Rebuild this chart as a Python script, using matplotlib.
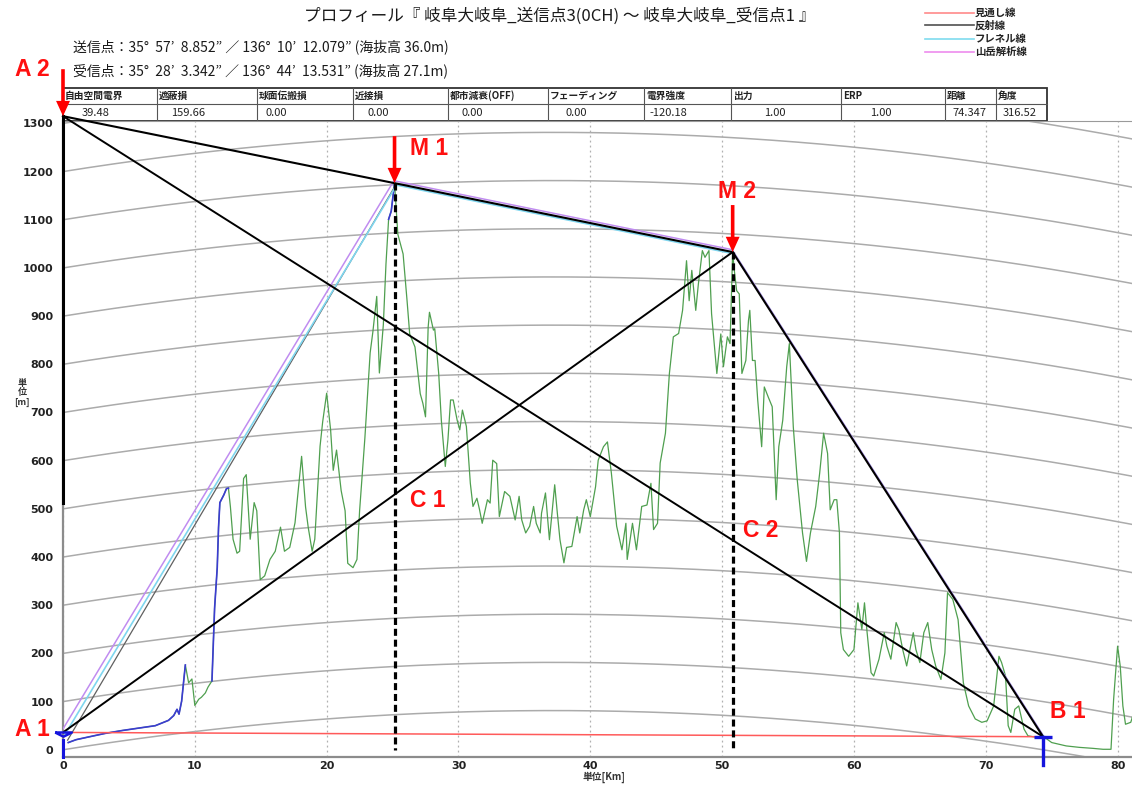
import numpy as np
import matplotlib
matplotlib.use('Agg')
import matplotlib.pyplot as plt
from matplotlib.patches import Rectangle

plt.rcParams['font.family'] = ['Noto Sans CJK JP', 'DejaVu Sans']

W, H = 1132, 787  # output px at dpi 100

# ---- header texts
title = 'プロフィール『 岐阜大岐阜_送信点3(0CH) ～ 岐阜大岐阜_受信点1 』'
tx_info = '送信点：35°  57’  8.852” ／ 136°  10’  12.079” (海抜高 36.0m)'
rx_info = '受信点：35°  28’  3.342” ／ 136°  44’  13.531” (海抜高 27.1m)'

legend_names = ['見通し線', '反射線', 'フレネル線', '山岳解析線']
legend_colors = ['#ff8a8a', '#505050', '#7fdcef', '#ee8cee']

table_heads = ['自由空間電界', '遮蔽損', '球面伝搬損', '近接損', '都市減衰(OFF)',
               'フェーディング', '電界強度', '出力', 'ERP', '距離', '角度']
table_vals = ['39.48', '159.66', '0.00', '0.00', '0.00', '0.00',
              '-120.18', '1.00', '1.00', '74.347', '316.52']

# ---- key points (km, m)
A1 = (0.0, 36.0)
A2 = (0.0, 1315.0)
M1 = (25.15, 1176.0)
M2 = (50.8, 1033.0)
B1 = (74.347, 27.1)
A2_line_end = 512.0   # thick vertical line at x=0 stops here

# ---- terrain profile (km, m)
dist_km = [0.4, 1.0, 2.0, 3.2, 4.5, 5.75, 7.0, 8.0, 8.4, 8.65, 8.8, 9.0, 9.28,
           9.53, 9.78, 10.0, 10.3, 10.5, 10.8, 11.0, 11.3, 11.5, 11.7, 11.8,
           11.9, 12.2, 12.4, 12.55, 12.7, 12.9, 13.2, 13.4, 13.7, 13.9, 14.2,
           14.5, 14.7, 14.96, 15.3, 15.7, 16.1, 16.5, 16.8, 17.2, 17.6, 18.1,
           18.4, 18.6, 18.9, 19.1, 19.5, 19.7, 20.0, 20.3, 20.5, 20.75, 21.1,
           21.4, 21.6, 22.0, 22.3, 22.5, 22.9, 23.3, 23.5, 23.8, 24.0, 24.3,
           24.5, 24.7, 24.9, 25.15,
           25.4, 25.8, 26.1, 26.3, 26.7, 27.1, 27.3, 27.5, 27.7, 27.8, 28.1,
           28.2, 28.5, 28.7, 29.0, 29.2, 29.4, 29.6, 29.9, 30.1, 30.3, 30.6,
           30.9, 31.1, 31.4, 31.6, 31.8, 32.2, 32.4, 32.6, 32.9, 33.1, 33.5,
           33.9, 34.3, 34.6, 34.8, 35.1, 35.4, 35.7, 35.9, 36.2, 36.3, 36.6,
           36.9, 37.3, 37.5, 37.7, 38.0, 38.2, 38.6, 39.0, 39.2, 39.5, 39.7,
           40.0, 40.4, 40.6, 41.0, 41.3, 41.6, 42.0, 42.4, 42.7, 42.8, 43.2,
           43.5, 43.9, 44.3, 44.6, 44.8, 45.1, 45.3, 45.7, 46.0, 46.3, 46.7,
           47.0, 47.3, 47.5, 47.7, 48.0, 48.2, 48.5, 48.7, 49.0, 49.2, 49.6,
           49.9, 50.1, 50.4, 50.6, 50.8,
           50.9, 51.1, 51.3, 51.5, 51.8, 52.0, 52.1, 52.3, 52.5, 52.7, 53.0,
           53.2, 53.5, 53.8, 54.1, 54.3, 54.6, 54.9, 55.1, 55.4, 55.7, 56.1,
           56.4, 56.7, 57.1, 57.4, 57.7, 58.0, 58.2, 58.5, 58.7, 58.9, 59.0,
           59.2, 59.6, 60.0, 60.3, 60.6, 60.8, 61.0, 61.3, 61.5, 61.9, 62.3,
           62.5, 62.8, 63.2, 63.4, 63.7, 64.0, 64.5, 64.7, 65.0, 65.3, 65.6,
           65.9, 66.2, 66.6, 66.9, 67.1, 67.5, 67.9, 68.3, 68.7, 69.2, 69.7,
           70.1, 70.6, 71.0, 71.2, 71.5, 71.7, 71.9, 72.2, 72.5, 72.9, 73.2,
           73.8, 74.4, 75.0, 76.1, 77.1, 78.1, 78.9, 79.5, 79.7, 80.0, 80.2,
           80.4, 80.6, 81.0, 81.3, 81.7]
elev_m = [15, 21, 27, 34, 40, 45, 50, 61, 71, 84, 74, 101, 176,
          139, 147, 92, 105, 109, 118, 130, 143, 294, 378, 462,
          513, 529, 542, 543, 504, 437, 408, 412, 563, 571, 437,
          513, 496, 353, 361, 395, 412, 462, 412, 420, 471, 609,
          504, 462, 412, 437, 630, 681, 740, 664, 580, 622, 538,
          496, 387, 378, 395, 496, 647, 824, 866, 941, 782, 882,
          1008, 1101, 1118, 1176,
          1070, 1029, 932, 863, 836, 739, 719, 691, 877, 908, 871,
          874, 781, 684, 588, 643, 726, 726, 684, 664, 705, 671,
          553, 505, 522, 498, 470, 519, 512, 601, 594, 484, 536,
          526, 477, 526, 477, 450, 464, 505, 470, 450, 491, 533,
          436, 550, 491, 436, 388, 420, 422, 484, 450, 498, 519,
          484, 546, 601, 629, 639, 574, 464, 415, 470, 395, 470,
          415, 505, 508, 553, 457, 470, 595, 657, 781, 857, 864,
          912, 1015, 932, 995, 912, 967, 1036, 1022, 1036, 905, 781,
          863, 795, 857, 843, 1033,
          1001, 953, 946, 781, 808, 891, 912, 808, 808, 726, 629,
          753, 732, 712, 519, 629, 684, 795, 843, 670, 560, 450,
          391, 450, 505, 574, 657, 615, 498, 519, 519, 450, 243,
          208, 194, 208, 305, 250, 305, 243, 160, 153, 188, 243,
          215, 188, 264, 250, 208, 174, 243, 208, 181, 243, 264,
          208, 174, 146, 201, 326, 312, 270, 139, 91, 64, 57,
          60, 91, 194, 181, 153, 50, 36, 84, 91, 43, 29,
          26, 27, 15, 8, 5, 3, 1, 1, 105, 215, 174,
          91, 53, 57, 84, 70]
blue_spans = [(0.0, 9.3), (11.3, 12.55), (24.6, 25.15)]

x_ticks = np.arange(0, 90, 10)
y_ticks = np.arange(0, 1400, 100)
curve_levels = np.arange(0, 1400, 100)

fig = plt.figure(figsize=(W / 100, H / 100), dpi=100)
ax = fig.add_axes([63 / W, 1 - 757 / H, 1077 / W, 636 / H])
ax.set_xlim(0, 81.7)
ax.set_ylim(-15, 1305)

# earth curvature reference arcs (k = 4/3)
xs = np.linspace(0, 82, 300)
bulge = xs * (B1[0] - xs) / (12.74 * 4 / 3)
for lev in curve_levels:
    ax.plot(xs, lev + bulge, color='#ababab', lw=1.1, zorder=1)

ax.set_xticks(x_ticks)
ax.set_yticks(y_ticks)
ax.grid(axis='x', linestyle=(0, (1.5, 2.5)), color='#b0b0b0', lw=0.9, zorder=0)
ax.tick_params(length=0, colors='#222222')
ax.tick_params(axis='y', pad=7)
ax.tick_params(axis='x', pad=3)
for lab in ax.get_xticklabels() + ax.get_yticklabels():
    lab.set_fontweight('bold')
    lab.set_family('DejaVu Sans')
    lab.set_fontsize(8)
for side in ['left', 'bottom']:
    ax.spines[side].set_color('#8c8c8c')
    ax.spines[side].set_linewidth(1.6)
ax.spines['top'].set_color('#9a9a9a')
ax.spines['right'].set_visible(False)

# terrain
dk = np.array(dist_km)
em = np.array(elev_m)
ax.plot(dk, em, color='#4f9f4f', lw=0.9, zorder=3)
for a, b in blue_spans:
    m = (dk >= a) & (dk <= b)
    ax.plot(dk[m], em[m], color='#3c3cd2', lw=1.2, zorder=3.5)

# line of sight
ax.plot([A1[0], B1[0]], [A1[1], B1[1]], color='#ff5a5a', lw=1.1, zorder=4)
# reflection line
ax.plot([A1[0] + 0.35, M1[0]], [A1[1] - 16, M1[1] - 8], color='#606060', lw=0.9, zorder=4)
# fresnel / mountain analysis paths
px = [A1[0], M1[0], M2[0], B1[0]]
py = [A1[1], M1[1], M2[1], B1[1]]
ax.plot(np.array(px) + 0.15, np.array(py) - 4, color='#7fd6ef', lw=1.2, zorder=4)
ax.plot(np.array(px) - 0.05, np.array(py) + 5, color='#c08cf0', lw=1.1, zorder=4)

# black overlay construction lines
ax.plot([A2[0], M1[0], M2[0], B1[0]], [A2[1], M1[1], M2[1], B1[1]],
        color='black', lw=1.5, zorder=6, clip_on=False)
ax.plot([A2[0], B1[0]], [A2[1], B1[1]], color='black', lw=1.4, zorder=6, clip_on=False)
ax.plot([A1[0], M2[0]], [A1[1], M2[1]], color='black', lw=1.4, zorder=6)
ax.plot([A2[0], A2[0]], [A2[1], A2_line_end], color='black', lw=2.2, zorder=6, clip_on=False)
for pt in (M1, M2):
    ax.plot([pt[0], pt[0]], [pt[1], 0], color='black', lw=2.3,
            linestyle=(0, (2.2, 1.2)), zorder=6)

# red arrows
for pt in (A2, M1, M2):
    ax.annotate('', xy=pt, xytext=(0, 47), textcoords='offset pixels',
                arrowprops=dict(facecolor='red', edgecolor='none', width=2.6,
                                headwidth=10, headlength=11, shrink=0),
                annotation_clip=False, zorder=7)

# crossing points for C labels
c1y = A1[1] + (M2[1] - A1[1]) * M1[0] / M2[0]
c2y = A2[1] + (B1[1] - A2[1]) * M2[0] / B1[0]
labels = [('A 2', A2, (-31, 47)), ('M 1', M1, (35, 35)), ('M 2', M2, (4, 61)),
          ('A 1', A1, (-31, 3)), ('B 1', B1, (25, 25)),
          ('C 1', (M1[0], c1y), (33, -6)), ('C 2', (M2[0], c2y), (28, 10))]
for txt, pt, off in labels:
    ax.annotate(txt, xy=pt, xytext=off, textcoords='offset pixels', ha='center',
                va='center', color='#ff1010', fontsize=16.5, fontweight='bold',
                family=['Liberation Sans', 'DejaVu Sans'], annotation_clip=False, zorder=8)

# antenna symbols
ax.plot([A1[0]], [A1[1]], marker=[(-1, 0), (1, 0), (0, -0.5), (-1, 0)], ms=12,
        mfc='none', mec='#1515dd', mew=1.8, clip_on=False, zorder=7)
ax.plot([A1[0], A1[0]], [A1[1] - 16, A1[1] - 52], color='#1515dd', lw=2.2,
        clip_on=False, zorder=7)
ax.plot([B1[0]], [B1[1]], marker='_', ms=13, mec='#1515dd', mew=2.4, clip_on=False, zorder=7)
ax.plot([B1[0], B1[0]], [B1[1], B1[1] - 58], color='#1515dd', lw=2.4,
        clip_on=False, zorder=7)

# ---- header area in pixel coordinates
hx = fig.add_axes([0, 0, 1, 1])
hx.set_xlim(0, W)
hx.set_ylim(H, 0)
hx.axis('off')
hx.set_zorder(-1)

hx.text(560, 16, title, ha='center', va='center', fontsize=12, color='#1a1a1a')
hx.text(73, 47, tx_info, ha='left', va='center', fontsize=10, color='#1a1a1a')
hx.text(73, 71, rx_info, ha='left', va='center', fontsize=10, color='#1a1a1a')

leg_y = [13, 25, 39, 52]
for name, col, yy in zip(legend_names, legend_colors, leg_y):
    hx.plot([925, 974], [yy, yy], color=col, lw=1.2)
    hx.text(975, yy, name, ha='left', va='center', fontsize=7.5, fontweight='bold',
            color='#222222')

col_edges = [63, 157, 257, 353, 448, 548, 644, 731, 841, 945, 996, 1047]
val_x = [82, 171, 266, 368, 462, 565, 649, 764, 870, 952, 1003]
t_top, t_mid, t_bot = 88, 104, 121
hx.add_patch(Rectangle((col_edges[0], t_top), col_edges[-1] - col_edges[0],
                       t_bot - t_top, fill=False, ec='#333333', lw=1.3))
hx.plot([col_edges[0], col_edges[-1]], [t_mid, t_mid], color='#555555', lw=0.8)
for xe in col_edges[1:-1]:
    hx.plot([xe, xe], [t_top, t_bot], color='#555555', lw=0.8)
for i, (hd, v) in enumerate(zip(table_heads, table_vals)):
    hx.text(col_edges[i] + 2, (t_top + t_mid) / 2, hd, ha='left', va='center',
            fontsize=7, fontweight='bold', color='#222222')
    hx.text(val_x[i], (t_mid + t_bot) / 2, v, ha='left', va='center',
            fontsize=8, color='#222222')

hx.text(22, 393, '単\n位\n[m]', ha='center', va='center', fontsize=6.5,
        fontweight='bold', linespacing=1.0, color='#333333')
hx.text(604, 777, '単位[Km]', ha='center', va='center', fontsize=7,
        fontweight='bold', color='#333333')

fig.savefig('out.png', dpi=100)
